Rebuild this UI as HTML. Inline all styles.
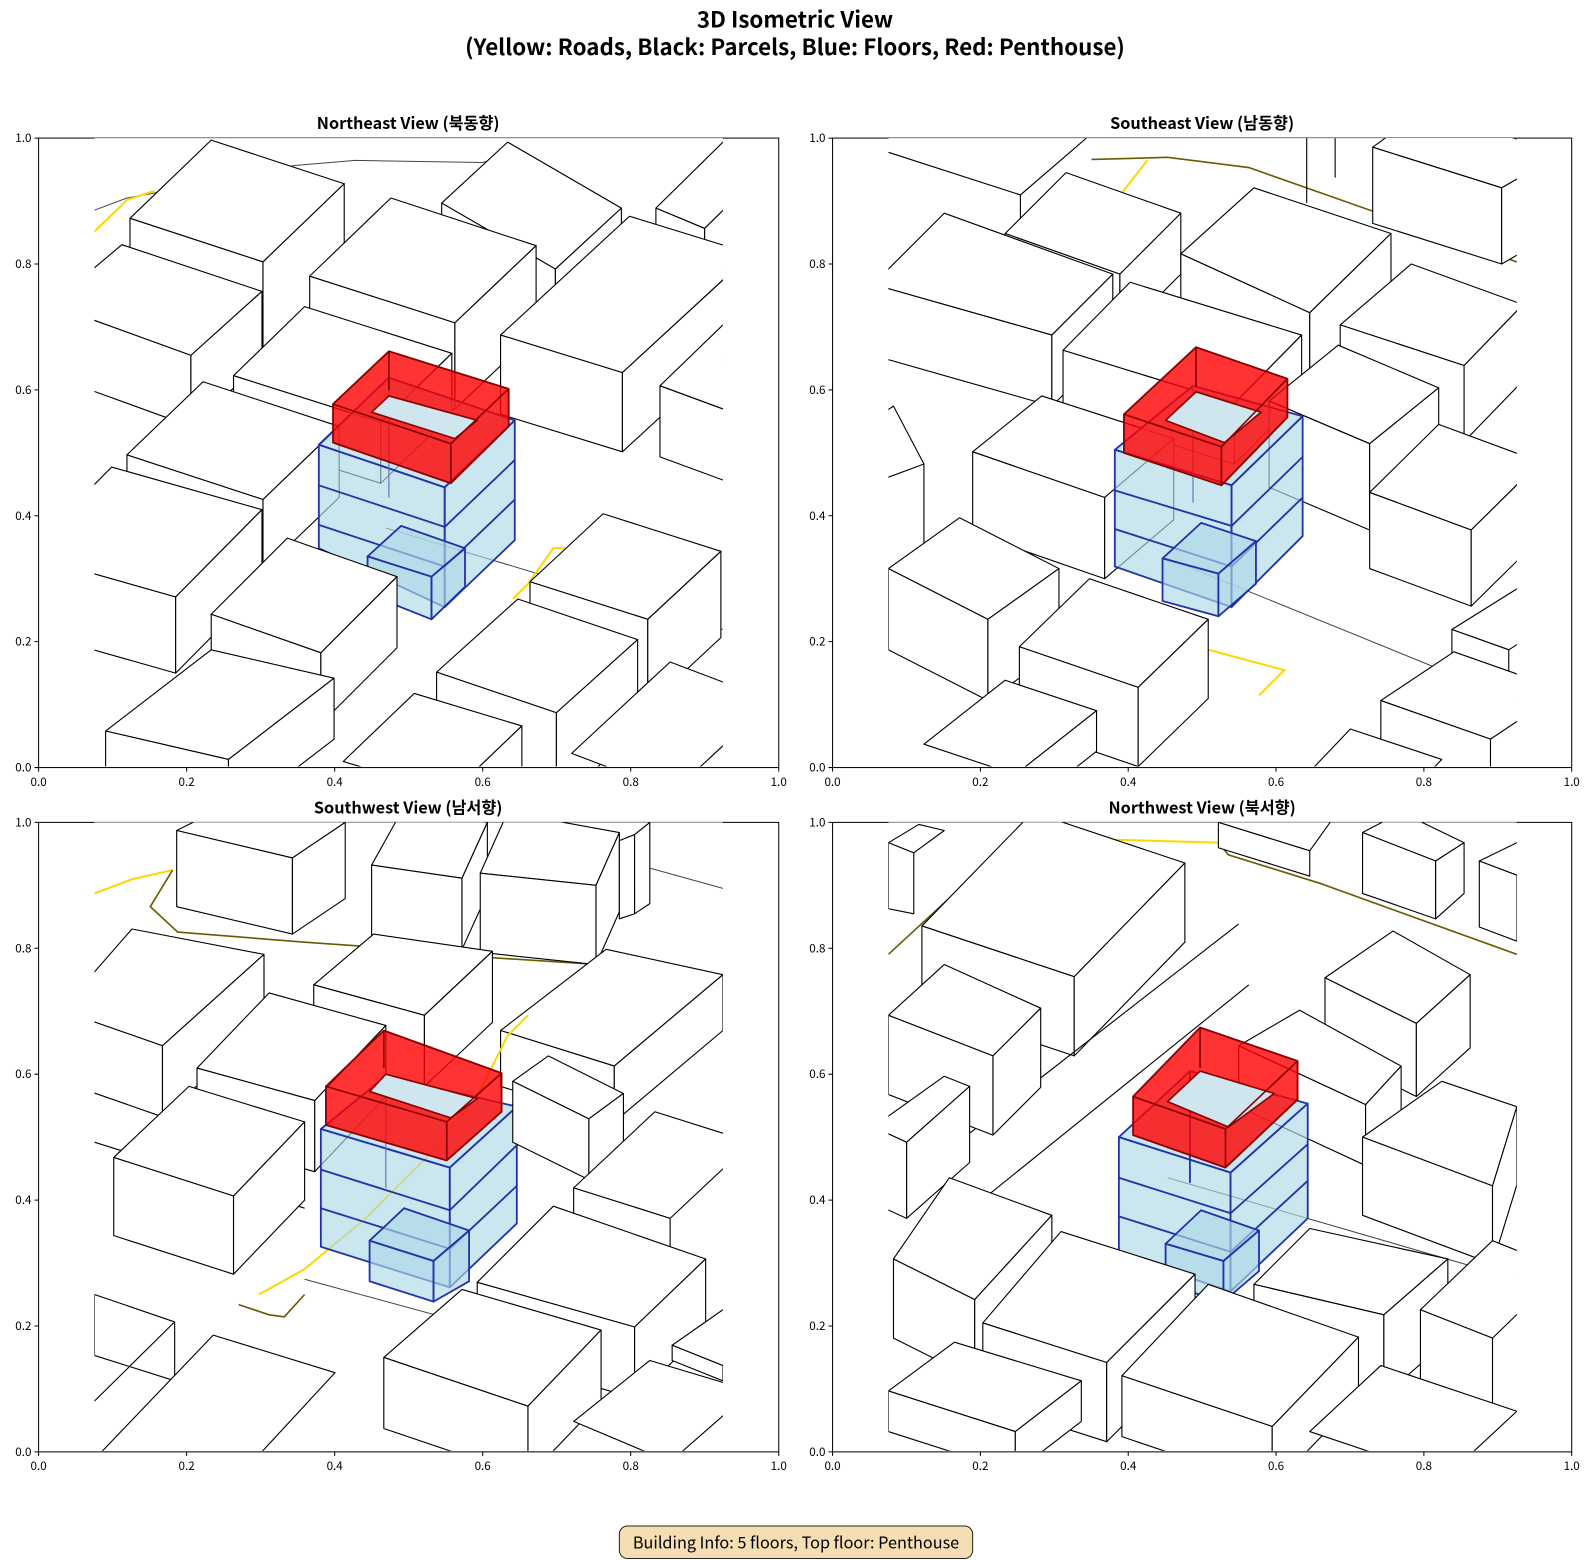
<!DOCTYPE html>
<html><head><meta charset="utf-8">
<style>
html,body{margin:0;padding:0;background:#fff;}
svg{display:block;}
.w{fill:#fff;stroke:#000;stroke-width:1.1;stroke-linejoin:round}
.ln{fill:none;stroke:#000;stroke-width:1.1}
.gl{fill:none;stroke:#444;stroke-width:1}
.y{fill:none;stroke:#ffd700;stroke-width:2}
.dy{fill:none;stroke:#6b5a00;stroke-width:1.6}
.bl{fill:#add8e6;fill-opacity:.65;stroke:#2233aa;stroke-width:1.8;stroke-linejoin:round}
.bll{fill:none;stroke:#2233aa;stroke-width:1.8}
.blt{fill:none;stroke:#6677bb;stroke-width:1.2}
.rd{fill:#ff0000;fill-opacity:.8;stroke:#8b0000;stroke-width:1.8;stroke-linejoin:round}
.rdl{fill:none;stroke:#8b0000;stroke-width:1.6}
.hole{fill:#cfe6ef;stroke:#8b0000;stroke-width:1.6;stroke-linejoin:round}
.t{font-family:"Noto Sans CJK KR","Liberation Sans",sans-serif;}
.tk{font-family:"Noto Sans CJK KR","Liberation Sans",sans-serif;font-size:11.5px;fill:#000}
</style></head>
<body>
<svg width="1590" height="1560" viewBox="0 0 1566 1536.5" xmlns="http://www.w3.org/2000/svg">
<defs>
<clipPath id="c1"><rect x="93" y="136" width="619" height="619"/></clipPath>
<clipPath id="c2"><rect x="875" y="136" width="619" height="619"/></clipPath>
<clipPath id="c3"><rect x="93" y="810" width="619" height="619"/></clipPath>
<clipPath id="c4"><rect x="875" y="810" width="619" height="619"/></clipPath>
</defs>
<rect width="1566" height="1537" fill="#fff"/>
<text class="t" x="783" y="27" font-size="22" font-weight="bold" text-anchor="middle">3D Isometric View</text>
<text class="t" x="783" y="54" font-size="22" font-weight="bold" text-anchor="middle">(Yellow: Roads, Black: Parcels, Blue: Floors, Red: Penthouse)</text>

<g fill="none" stroke="#000" stroke-width="1">
<rect x="38" y="136" width="729" height="620"/>
<rect x="820" y="136" width="728" height="620"/>
<rect x="38" y="810" width="729" height="620"/>
<rect x="820" y="810" width="728" height="620"/>
</g>
<text class="t" x="402" y="127" font-size="16" font-weight="bold" text-anchor="middle">Northeast View (북동향)</text>
<text class="t" x="1184" y="127" font-size="16" font-weight="bold" text-anchor="middle">Southeast View (남동향)</text>
<text class="t" x="402" y="801" font-size="16" font-weight="bold" text-anchor="middle">Southwest View (남서향)</text>
<text class="t" x="1184" y="801" font-size="16" font-weight="bold" text-anchor="middle">Northwest View (북서향)</text>

<g stroke="#000" stroke-width="1">
<path d="M38 756v4M183.8 756v4M329.6 756v4M475.4 756v4M621.2 756v4M767 756v4M38 756h-4M38 632h-4M38 508h-4M38 384h-4M38 260h-4M38 136h-4"/>
<path d="M820 756v4M965.6 756v4M1111.2 756v4M1256.8 756v4M1402.4 756v4M1548 756v4M820 756h-4M820 632h-4M820 508h-4M820 384h-4M820 260h-4M820 136h-4"/>
<path d="M38 1430v4M183.8 1430v4M329.6 1430v4M475.4 1430v4M621.2 1430v4M767 1430v4M38 1430h-4M38 1306h-4M38 1182h-4M38 1058h-4M38 934h-4M38 810h-4"/>
<path d="M820 1430v4M965.6 1430v4M1111.2 1430v4M1256.8 1430v4M1402.4 1430v4M1548 1430v4M820 1430h-4M820 1306h-4M820 1182h-4M820 1058h-4M820 934h-4M820 810h-4"/>
</g>
<g class="tk" text-anchor="middle">
<text x="38" y="774">0.0</text><text x="183.8" y="774">0.2</text><text x="329.6" y="774">0.4</text><text x="475.4" y="774">0.6</text><text x="621.2" y="774">0.8</text><text x="767" y="774">1.0</text>
<text x="820" y="774">0.0</text><text x="965.6" y="774">0.2</text><text x="1111.2" y="774">0.4</text><text x="1256.8" y="774">0.6</text><text x="1402.4" y="774">0.8</text><text x="1548" y="774">1.0</text>
<text x="38" y="1448">0.0</text><text x="183.8" y="1448">0.2</text><text x="329.6" y="1448">0.4</text><text x="475.4" y="1448">0.6</text><text x="621.2" y="1448">0.8</text><text x="767" y="1448">1.0</text>
<text x="820" y="1448">0.0</text><text x="965.6" y="1448">0.2</text><text x="1111.2" y="1448">0.4</text><text x="1256.8" y="1448">0.6</text><text x="1402.4" y="1448">0.8</text><text x="1548" y="1448">1.0</text>
</g>
<g class="tk" text-anchor="end">
<text x="31" y="760">0.0</text><text x="31" y="636">0.2</text><text x="31" y="512">0.4</text><text x="31" y="388">0.6</text><text x="31" y="264">0.8</text><text x="31" y="140">1.0</text>
<text x="813" y="760">0.0</text><text x="813" y="636">0.2</text><text x="813" y="512">0.4</text><text x="813" y="388">0.6</text><text x="813" y="264">0.8</text><text x="813" y="140">1.0</text>
<text x="31" y="1434">0.0</text><text x="31" y="1310">0.2</text><text x="31" y="1186">0.4</text><text x="31" y="1062">0.6</text><text x="31" y="938">0.8</text><text x="31" y="814">1.0</text>
<text x="813" y="1434">0.0</text><text x="813" y="1310">0.2</text><text x="813" y="1186">0.4</text><text x="813" y="1062">0.6</text><text x="813" y="938">0.8</text><text x="813" y="814">1.0</text>
</g>

<!-- ================= PANEL 1 NE ================= -->
<g clip-path="url(#c1)">
<rect x="93" y="130" width="619" height="625" fill="#fff"/>
<polyline class="gl" points="93,207 125,195 180,185 290,163 350,158 475,160 500,153"/>
<polyline class="y" points="93,228 125,197 152,188"/>
<polygon class="w" points="128,215 208,138 339,181 259,258"/><polygon class="w" points="128,215 259,258 259,348 128,305"/><polygon class="w" points="259,258 339,181 339,271 259,348"/>
<polygon class="w" points="435,200 500,140 612,205 547,265"/><polygon class="w" points="435,200 547,265 547,325 435,260"/><polygon class="w" points="547,265 612,205 612,265 547,325"/>
<polygon class="w" points="646,205 712,140 760,160 694,225"/><polygon class="w" points="646,205 694,225 694,285 646,265"/><polygon class="w" points="694,225 760,160 760,220 694,285"/>
<polygon class="w" points="305,272 385,195 528,242 448,318"/><polygon class="w" points="305,272 448,318 448,403 305,357"/><polygon class="w" points="448,318 528,242 528,327 448,403"/>
<polygon class="w" points="50,300 120,241 258,287 188,350"/><polygon class="w" points="50,300 188,350 188,420 50,370"/><polygon class="w" points="188,350 258,287 258,357 188,420"/>
<polygon class="w" points="230,370 300,302 445,348 375,416"/><polygon class="w" points="230,370 375,416 375,476 230,430"/><polygon class="w" points="375,416 445,348 445,408 375,476"/>
<polygon class="w" points="493,330 620,213 740,250 613,367"/><polygon class="w" points="493,330 613,367 613,445 493,408"/><polygon class="w" points="613,367 740,250 740,328 613,445"/>
<polygon class="w" points="650,380 712,320 780,345 718,405"/><polygon class="w" points="650,380 718,405 718,475 650,450"/>
<polygon class="w" points="125,448 200,376 334,420 259,492"/><polygon class="w" points="125,448 259,492 259,562 125,518"/><polygon class="w" points="259,492 334,420 334,490 259,562"/>
<polygon class="w" points="25,546 110,460 258,502 173,588"/><polygon class="w" points="25,546 173,588 173,663 25,621"/><polygon class="w" points="173,588 258,502 258,577 173,663"/>
<line class="gl" x1="380" y1="520" x2="712" y2="620"/>
<polyline class="y" points="505,590 520,575 545,540 558,540"/>
<polygon class="bl" points="314,438 383,372 507,414 438,480"/>
<polygon class="bl" points="314,438 438,480 438,598 314,540"/>
<polygon class="bl" points="438,480 507,414 507,532 438,598"/>
<polyline class="bll" points="314,478 438,519 507,453"/><polyline class="bll" points="314,517 438,558 507,492"/>
<line class="blt" x1="383" y1="372" x2="383" y2="490"/>
<polygon class="bl" points="362,548 395,518 458,540 425,568"/><polygon class="bl" points="362,548 425,568 425,610 362,585"/><polygon class="bl" points="425,568 458,540 458,578 425,610"/>
<polygon class="rd" points="328,398 383,346 501,383 501,420 444,476 328,436"/>
<polygon class="hole" points="366,406 383,390 470,414 448,432"/>
<polyline class="rdl" points="328,398 444,437 501,383"/><line class="rdl" x1="444" y1="437" x2="444" y2="476"/><line class="rdl" x1="383" y1="346" x2="383" y2="384"/>
<polygon class="w" points="522,573 594,506 710,543 638,610"/><polygon class="w" points="522,573 638,610 638,695 522,658"/><polygon class="w" points="638,610 710,543 710,628 638,695"/>
<polygon class="w" points="208,605 283,530 391,568 316,643"/><polygon class="w" points="208,605 316,643 316,713 208,675"/><polygon class="w" points="316,643 391,568 391,638 316,713"/>
<polygon class="w" points="430,662 510,590 628,630 548,702"/><polygon class="w" points="430,662 548,702 548,792 430,752"/><polygon class="w" points="548,702 628,630 628,720 548,792"/>
<polygon class="w" points="104,720 208,640 329,668 225,748"/><polygon class="w" points="104,720 225,748 225,808 104,780"/><polygon class="w" points="225,748 329,668 329,728 225,808"/>
<polygon class="w" points="338,750 408,683 514,715 444,782"/><polygon class="w" points="444,782 514,715 514,775 444,842"/>
<polygon class="w" points="563,742 660,652 760,690 663,780"/>
</g>

<!-- ================= PANEL 2 SE ================= -->
<g clip-path="url(#c2)">
<rect x="875" y="130" width="619" height="625" fill="#fff"/>
<polyline class="dy" points="1075,157 1150,155 1230,165 1494,258"/>
<polyline class="y" points="1105,190 1130,158"/>
<polyline class="ln" points="875,150 1005,192 1070,136"/><line class="ln" x1="1005" y1="192" x2="1005" y2="215"/>
<line class="ln" x1="1287" y1="136" x2="1287" y2="200"/><line class="ln" x1="1315" y1="136" x2="1315" y2="175"/>
<polygon class="w" points="1352,145 1400,110 1540,150 1479,185"/><polygon class="w" points="1352,145 1479,185 1479,260 1352,220"/><polygon class="w" points="1479,185 1540,150 1540,225 1479,260"/>
<polygon class="w" points="990,230 1050,170 1163,210 1103,270"/><polygon class="w" points="990,230 1103,270 1103,330 990,290"/><polygon class="w" points="1103,270 1163,210 1163,270 1103,330"/>
<polygon class="w" points="1163,250 1235,185 1370,230 1290,308"/><polygon class="w" points="1163,250 1290,308 1290,378 1163,320"/><polygon class="w" points="1290,308 1370,230 1370,300 1290,378"/>
<polygon class="w" points="860,280 930,210 1096,270 1036,330"/><polygon class="w" points="860,280 1036,330 1036,400 860,350"/><polygon class="w" points="1036,330 1096,270 1096,340 1036,400"/>
<polygon class="w" points="1320,320 1390,260 1500,300 1442,360"/><polygon class="w" points="1320,320 1442,360 1442,435 1320,395"/><polygon class="w" points="1442,360 1500,300 1500,375 1442,435"/>
<polygon class="w" points="1047,345 1113,278 1282,330 1216,397"/><polygon class="w" points="1047,345 1216,397 1216,457 1047,405"/><polygon class="w" points="1216,397 1282,330 1282,390 1216,457"/>
<polygon class="w" points="1250,395 1318,340 1417,382 1349,437"/><polygon class="w" points="1250,395 1349,437 1349,522 1250,480"/><polygon class="w" points="1349,437 1417,382 1417,467 1349,522"/>
<polygon class="w" points="820,440 880,400 910,457 875,470"/><line class="ln" x1="910" y1="457" x2="910" y2="540"/>
<polygon class="w" points="958,445 1026,390 1156,432 1088,490"/><polygon class="w" points="958,445 1088,490 1088,570 958,525"/><polygon class="w" points="1088,490 1156,432 1156,512 1088,570"/>
<line class="gl" x1="1150" y1="550" x2="1494" y2="690"/>
<polygon class="bl" points="1098,443 1175,380 1283,410 1213,478"/>
<polygon class="bl" points="1098,443 1213,478 1213,598 1098,558"/>
<polygon class="bl" points="1213,478 1283,410 1283,528 1213,598"/>
<polyline class="bll" points="1098,483 1213,518 1283,450"/><polyline class="bll" points="1098,521 1213,558 1283,490"/>
<line class="blt" x1="1175" y1="380" x2="1175" y2="495"/>
<polygon class="bl" points="1145,550 1183,515 1237,533 1200,565"/><polygon class="bl" points="1145,550 1200,565 1200,607 1145,592"/><polygon class="bl" points="1200,565 1237,533 1237,575 1200,607"/>
<polygon class="rd" points="1107,408 1178,342 1268,373 1268,411 1203,478 1107,446"/>
<polygon class="hole" points="1148,414 1178,386 1242,406 1206,436"/>
<polyline class="rdl" points="1107,408 1203,440 1268,373"/><line class="rdl" x1="1203" y1="440" x2="1203" y2="478"/><line class="rdl" x1="1178" y1="342" x2="1178" y2="381"/>
<polyline class="y" points="1190,640 1265,660 1240,685"/>
<polygon class="w" points="1349,485 1417,418 1517,455 1449,522"/><polygon class="w" points="1349,485 1449,522 1449,597 1349,560"/><polygon class="w" points="1449,522 1517,455 1517,530 1449,597"/>
<polygon class="w" points="875,560 945,510 1043,560 973,610"/><polygon class="w" points="875,560 973,610 973,690 875,640"/><polygon class="w" points="973,610 1043,560 1043,640 973,690"/>
<polygon class="w" points="1004,637 1073,570 1190,610 1121,677"/><polygon class="w" points="1004,637 1121,677 1121,755 1004,715"/><polygon class="w" points="1121,677 1190,610 1190,688 1121,755"/>
<polygon class="w" points="1430,620 1494,580 1550,600 1486,640"/><polygon class="w" points="1430,620 1486,640 1486,700 1430,680"/>
<polygon class="w" points="1360,690 1432,642 1540,680 1468,728"/><polygon class="w" points="1360,690 1468,728 1468,788 1360,750"/>
<polygon class="w" points="910,733 990,670 1080,700 1000,763"/><polygon class="w" points="1000,763 1080,700 1080,740 1000,803"/>
<polygon class="w" points="1290,760 1330,718 1420,748 1380,790"/>
</g>

<!-- ================= PANEL 3 SW ================= -->
<g clip-path="url(#c3)">
<rect x="93" y="804" width="619" height="625" fill="#fff"/>
<polyline class="y" points="93,880 130,866 170,857"/>
<polyline class="dy" points="170,857 148,893 175,918 300,928 400,935 480,943 590,950"/>
<polygon class="w" points="174,818 230,790 340,810 288,845"/><polygon class="w" points="174,818 288,845 288,920 174,893"/><polygon class="w" points="288,845 340,810 340,885 288,920"/>
<polygon class="w" points="366,852 395,800 480,810 455,865"/><polygon class="w" points="366,852 455,865 455,935 366,922"/><polygon class="w" points="455,865 480,810 480,880 455,935"/>
<polygon class="w" points="473,860 500,800 610,820 587,872"/><polygon class="w" points="473,860 587,872 587,950 473,938"/><polygon class="w" points="587,872 610,820 610,898 587,950"/>
<polygon class="w" points="610,828 625,822 625,900 610,905"/><polygon class="w" points="625,822 640,810 640,890 625,900"/>
<line class="gl" x1="640" y1="855" x2="712" y2="875"/>
<polygon class="w" points="60,995 130,915 260,940 160,1030"/><polygon class="w" points="60,995 160,1030 160,1100 60,1065"/><polygon class="w" points="160,1030 260,940 260,1010 160,1100"/>
<polygon class="w" points="309,970 368,920 485,937 418,1000"/><polygon class="w" points="309,970 418,1000 418,1070 309,1040"/><polygon class="w" points="418,1000 485,937 485,1007 418,1070"/>
<polygon class="w" points="194,1052 265,978 380,1010 310,1084"/><polygon class="w" points="194,1052 310,1084 310,1154 194,1122"/><polygon class="w" points="310,1084 380,1010 380,1080 310,1154"/>
<polygon class="w" points="493,1015 597,935 712,960 605,1050"/><polygon class="w" points="493,1015 605,1050 605,1105 493,1070"/><polygon class="w" points="605,1050 712,960 712,1015 605,1105"/>
<line class="ln" x1="93" y1="1125" x2="300" y2="1190"/>
<line class="gl" x1="300" y1="1260" x2="520" y2="1320"/>
<polyline class="y" points="255,1275 300,1250 360,1200 420,1140 470,1080 500,1020 520,1000"/>
<polyline class="dy" points="235,1285 265,1295 280,1297 300,1275"/>
<polygon class="bl" points="316,1112 380,1060 509,1090 443,1150"/>
<polygon class="bl" points="316,1112 443,1150 443,1268 316,1228"/>
<polygon class="bl" points="443,1150 509,1090 509,1205 443,1268"/>
<polyline class="bll" points="316,1152 443,1192 509,1128"/><polyline class="bll" points="316,1190 443,1230 509,1168"/>
<line class="blt" x1="380" y1="1060" x2="380" y2="1170"/>
<polygon class="bl" points="364,1222 398,1190 462,1212 427,1242"/><polygon class="bl" points="364,1222 427,1242 427,1282 364,1262"/><polygon class="bl" points="427,1242 462,1212 462,1262 427,1282"/>
<polygon class="rd" points="321,1070 378,1015 494,1057 494,1095 440,1143 321,1108"/>
<polygon class="hole" points="364,1075 380,1058 470,1082 444,1101"/>
<polyline class="rdl" points="321,1070 440,1105 494,1057"/><line class="rdl" x1="440" y1="1105" x2="440" y2="1143"/><line class="rdl" x1="378" y1="1015" x2="378" y2="1052"/>
<polygon class="w" points="112,1140 186,1070 300,1105 230,1178"/><polygon class="w" points="112,1140 230,1178 230,1255 112,1217"/><polygon class="w" points="230,1178 300,1105 300,1182 230,1255"/>
<polygon class="w" points="505,1065 540,1040 614,1077 580,1102"/><polygon class="w" points="505,1065 580,1102 580,1162 505,1125"/><polygon class="w" points="580,1102 614,1077 614,1137 580,1162"/>
<polygon class="w" points="565,1170 645,1095 740,1125 660,1200"/><polygon class="w" points="565,1170 660,1200 660,1270 565,1240"/>
<polygon class="w" points="470,1263 545,1188 695,1240 625,1307"/><polygon class="w" points="470,1263 625,1307 625,1377 470,1333"/><polygon class="w" points="625,1307 695,1240 695,1310 625,1377"/>
<polygon class="w" points="93,1275 172,1302 172,1360 93,1335"/><line class="ln" x1="93" y1="1380" x2="172" y2="1302"/>
<polygon class="w" points="662,1325 712,1290 760,1310 712,1345"/><polygon class="w" points="662,1325 712,1345 712,1360 662,1340"/>
<polygon class="w" points="378,1337 455,1270 592,1310 520,1385"/><polygon class="w" points="378,1337 520,1385 520,1455 378,1407"/><polygon class="w" points="520,1385 592,1310 592,1380 520,1455"/>
<polygon class="w" points="100,1430 210,1315 330,1352 230,1460"/>
<polygon class="w" points="565,1400 640,1340 740,1370 660,1440"/>
</g>

<!-- ================= PANEL 4 NW ================= -->
<g clip-path="url(#c4)">
<rect x="875" y="804" width="619" height="625" fill="#fff"/>
<polyline class="y" points="1095,827 1200,830"/>
<polyline class="dy" points="1200,830 1210,842 1300,870 1494,940"/>
<polyline class="dy" points="875,940 940,880"/>
<polygon class="w" points="875,830 905,812 930,818 900,840"/><polygon class="w" points="875,830 900,840 900,900 875,895"/>
<polygon class="w" points="1200,810 1240,790 1310,810 1290,838"/><polygon class="w" points="1200,810 1290,838 1290,863 1200,835"/>
<polygon class="w" points="1342,820 1380,800 1442,830 1414,848"/><polygon class="w" points="1342,820 1414,848 1414,905 1342,880"/><polygon class="w" points="1414,848 1442,830 1442,880 1414,905"/>
<polygon class="w" points="1457,848 1494,830 1530,840 1494,862"/><polygon class="w" points="1457,848 1494,862 1494,927 1457,913"/>
<polygon class="w" points="908,912 1017,800 1167,850 1058,962"/><polygon class="w" points="908,912 1058,962 1058,1040 908,990"/><polygon class="w" points="1058,962 1167,850 1167,928 1058,1040"/>
<line class="ln" x1="950" y1="1120" x2="1220" y2="910"/>
<line class="ln" x1="920" y1="1220" x2="1230" y2="970"/>
<polygon class="w" points="875,1000 930,950 1025,993 978,1040"/><polygon class="w" points="875,1000 978,1040 978,1118 875,1078"/><polygon class="w" points="978,1040 1025,993 1025,1071 978,1118"/>
<polygon class="w" points="1305,963 1372,917 1448,960 1395,1008"/><polygon class="w" points="1305,963 1395,1008 1395,1080 1305,1035"/><polygon class="w" points="1395,1008 1448,960 1448,1032 1395,1080"/>
<polygon class="w" points="1220,1030 1280,995 1380,1050 1345,1088"/><polygon class="w" points="1220,1030 1345,1088 1345,1148 1220,1090"/><polygon class="w" points="1345,1088 1380,1050 1380,1110 1345,1148"/>
<polygon class="w" points="860,1110 930,1060 955,1070 893,1125"/><polygon class="w" points="860,1110 893,1125 893,1200 860,1185"/><polygon class="w" points="893,1125 955,1070 955,1145 893,1200"/>
<polygon class="w" points="1342,1120 1420,1065 1494,1090 1470,1168"/><polygon class="w" points="1342,1120 1470,1168 1470,1245 1342,1197"/><polygon class="w" points="1470,1168 1494,1090 1494,1167 1470,1245"/>
<line class="gl" x1="1150" y1="1160" x2="1494" y2="1260"/>
<polygon class="bl" points="1102,1120 1172,1055 1288,1087 1212,1155"/>
<polygon class="bl" points="1102,1120 1212,1155 1212,1272 1102,1235"/>
<polygon class="bl" points="1212,1155 1288,1087 1288,1200 1212,1272"/>
<polyline class="bll" points="1102,1160 1212,1195 1288,1127"/><polyline class="bll" points="1102,1198 1212,1233 1288,1163"/>
<line class="bll" x1="1172" y1="1055" x2="1172" y2="1165"/>
<polygon class="bl" points="1148,1225 1183,1192 1240,1212 1205,1242"/><polygon class="bl" points="1148,1225 1205,1242 1205,1282 1148,1265"/><polygon class="bl" points="1205,1242 1240,1212 1240,1252 1205,1282"/>
<polygon class="rd" points="1116,1080 1182,1012 1278,1045 1278,1083 1207,1150 1116,1118"/>
<polygon class="hole" points="1150,1085 1182,1055 1255,1077 1210,1110"/>
<polyline class="rdl" points="1116,1080 1207,1112 1278,1045"/><line class="rdl" x1="1207" y1="1112" x2="1207" y2="1150"/><line class="rdl" x1="1182" y1="1012" x2="1182" y2="1052"/>
<polygon class="w" points="880,1240 935,1160 1036,1197 960,1280"/><polygon class="w" points="880,1240 960,1280 960,1358 880,1318"/><polygon class="w" points="960,1280 1036,1197 1036,1275 960,1358"/>
<polygon class="w" points="1235,1265 1290,1210 1426,1240 1363,1295"/><polygon class="w" points="1235,1265 1363,1295 1363,1375 1235,1345"/><polygon class="w" points="1363,1295 1426,1240 1426,1320 1363,1375"/>
<polygon class="w" points="968,1303 1045,1213 1177,1255 1090,1342"/><polygon class="w" points="968,1303 1090,1342 1090,1420 968,1381"/><polygon class="w" points="1090,1342 1177,1255 1177,1333 1090,1420"/>
<polygon class="w" points="1399,1290 1470,1222 1540,1250 1470,1318"/><polygon class="w" points="1399,1290 1470,1318 1470,1398 1399,1370"/>
<polygon class="w" points="1105,1355 1190,1265 1338,1317 1253,1405"/><polygon class="w" points="1105,1355 1253,1405 1253,1465 1105,1415"/><polygon class="w" points="1253,1405 1338,1317 1338,1377 1253,1465"/>
<polygon class="w" points="875,1370 940,1322 1065,1360 1000,1410"/><polygon class="w" points="875,1370 1000,1410 1000,1450 875,1410"/><polygon class="w" points="1000,1410 1065,1360 1065,1400 1000,1450"/>
<polygon class="w" points="1290,1410 1360,1345 1494,1390 1424,1455"/>
</g>

<rect x="610" y="1503" width="348" height="32" rx="8" ry="8" fill="#f5deb3" stroke="#222" stroke-width="1"/>
<text class="t" x="784" y="1525" font-size="16" text-anchor="middle">Building Info: 5 floors, Top floor: Penthouse</text>
</svg>
</body></html>
